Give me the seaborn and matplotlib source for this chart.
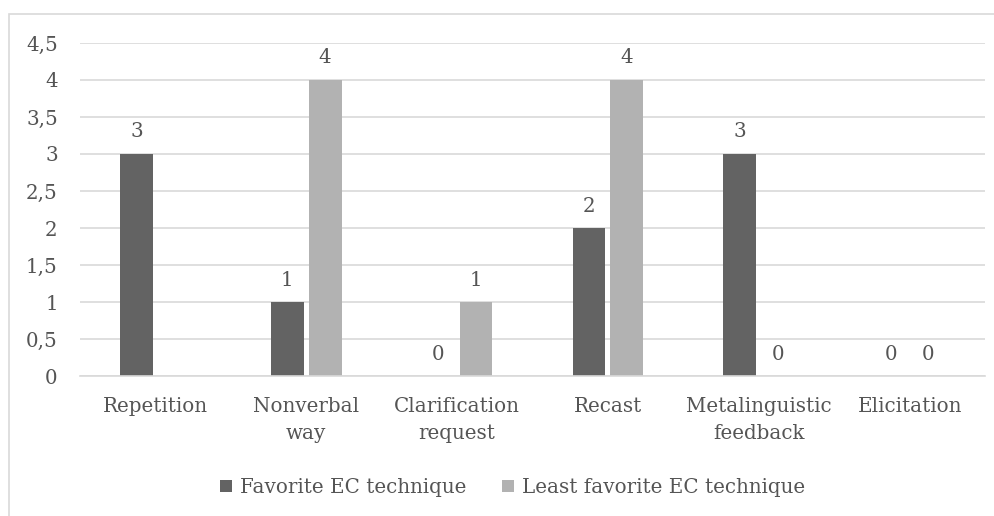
import matplotlib
matplotlib.use('Agg')
import matplotlib.pyplot as plt
import matplotlib.ticker as mticker
from matplotlib.patches import Rectangle
import seaborn as sns
import pandas as pd
import numpy as np

# dữ liệu
categories = ['Repetition', 'Nonverbal\nway', 'Clarification\nrequest', 'Recast',
              'Metalinguistic\nfeedback', 'Elicitation']
favorite = [3, 1, 0, 2, 3, 0]
least_favorite = [np.nan, 4, 1, 4, 0, 0]
series_names = ['Favorite EC technique', 'Least favorite EC technique']
colors = ['#636363', '#b2b2b2']
y_ticks = [0, 0.5, 1, 1.5, 2, 2.5, 3, 3.5, 4, 4.5]

df = pd.DataFrame({
    'category': categories * 2,
    'value': favorite + least_favorite,
    'series': [series_names[0]] * len(categories) + [series_names[1]] * len(categories),
}).dropna()

sns.set_style('white')
plt.rcParams['font.family'] = ['DejaVu Serif']
text_color = '#555555'
grid_color = '#d9d9d9'
fs = 14.3

fig = plt.figure(figsize=(9.95, 5.16), dpi=100)
ax = fig.add_axes([80 / 995, 140 / 516, 905 / 995, 333 / 516])

sns.barplot(data=df, x='category', y='value', hue='series', order=categories,
            hue_order=series_names, palette=colors, width=0.5, gap=0.13,
            saturation=1, linewidth=0, ax=ax, legend=True)

# nhãn giá trị trên cột
for cont in ax.containers:
    ax.bar_label(cont, fmt='%g', padding=9, fontsize=fs, color=text_color)

ax.set_ylim(0, 4.5)
ax.set_xlim(-0.5, len(categories) - 0.5)
ax.set_yticks(y_ticks)
ax.yaxis.set_major_formatter(mticker.FuncFormatter(lambda v, p: f'{v:g}'.replace('.', ',')))
ax.grid(axis='y', color=grid_color, linewidth=1.2)
ax.set_axisbelow(True)
for s in ['top', 'right', 'left']:
    ax.spines[s].set_visible(False)
ax.spines['bottom'].set_color(grid_color)
ax.spines['bottom'].set_linewidth(1.2)
ax.tick_params(axis='both', length=0, labelsize=fs, labelcolor=text_color)
ax.tick_params(axis='y', pad=16)
ax.tick_params(axis='x', pad=15)
for lbl in ax.get_xticklabels():
    lbl.set_linespacing(1.55)
ax.set_xlabel('')
ax.set_ylabel('')

leg = ax.legend(loc='center', bbox_to_anchor=(0.478, -0.335), ncol=2, frameon=False,
                fontsize=fs, handlelength=0.6, handleheight=0.6, columnspacing=1.8,
                handletextpad=0.4)
for t in leg.get_texts():
    t.set_color(text_color)

# khung viền biểu đồ
fig.patches.append(Rectangle((9 / 995, -0.1), 1.2, 1 - 14 / 516 + 0.1,
                             transform=fig.transFigure, fill=False,
                             edgecolor=grid_color, linewidth=1.2))

plt.savefig('out.png', dpi=100)
plt.close()
